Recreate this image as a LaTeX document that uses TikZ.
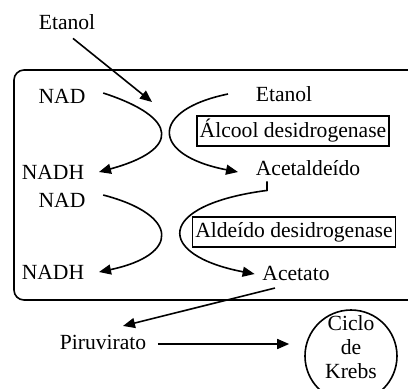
\documentclass[tikz,border=0pt]{standalone}
\usepackage{fontspec}
\setmainfont{Liberation Serif}
\usetikzlibrary{arrows.meta,calc}

\begin{document}
\begin{tikzpicture}[x=.5pt, y=-.5pt, line width=.8pt,
	arr/.style={-{Triangle[length=6pt,width=5pt]}},
	lbl/.style={inner sep=1pt, font=\fontsize{10.8}{12}\selectfont},
	enzyme/.style={draw, lbl, inner xsep=1.5pt, minimum height=15pt}]
	\useasboundingbox (0,0) rectangle (408,388);
	\clip (0,0) rectangle (408,388);
	% cell
	\draw[rounded corners=5pt] (14,70) rectangle (430,300);
	% labels
	\node[lbl] (etOut) at (67,22) {Etanol};
	\node[lbl] (nadA) at (62,96) {NAD};
	\node[lbl] (nadhA) at (53,172) {NADH};
	\node[lbl] (nadB) at (62,200) {NAD};
	\node[lbl] (nadhB) at (53,272) {NADH};
	\node[lbl] (etIn) at (284,94) {Etanol};
	\node[lbl] (acetal) at (308,168) {Acetaldeído};
	\node[lbl] (acetato) at (296,273) {Acetato};
	\node[lbl] (piru) at (103,342) {Piruvirato};
	\node[enzyme] (adh) at (293,131) {Álcool desidrogenase};
	\node[enzyme] (aldh) at (294,232) {Aldeído desidrogenase};
	\node[draw, circle, minimum size=46pt] (krebs) at (351,356) {};
	\node[lbl, align=center] (krebsTxt) at (351,347) {Ciclo\\de\\Krebs};
	\coordinate (entry) at (152,102);
	% arrows
	\draw[arr] ($(etOut.south)+(6,6)$) -- (entry);
	\draw[arr] ($(nadA.east)+(15,-3)$) .. controls (180,118) and (180,150) .. ($(nadhA.east)+(12,0)$);
	\draw[arr] ($(etIn.west)+(-25,0)$) .. controls (150,110) and (150,155) .. ($(acetal.west)+(-15,4)$);
	\draw[arr] ($(nadB.east)+(15,-5)$) .. controls (180,215) and (180,255) .. ($(nadhB.east)+(12,0)$);
	\draw[arr] ($(acetal.south)+(-41,3)$) -- ++(0,9) .. controls (155,205) and (155,255) .. ($(acetato.west)+(-5,1)$);
	\draw[arr] ($(acetato.south)+(-21,5)$) -- ($(piru.north east)+(-26,-6)$);
	\draw[arr] ($(piru.east)+(9,2)$) -- ($(krebs.west)+(-15,-12)$);
\end{tikzpicture}
\end{document}
